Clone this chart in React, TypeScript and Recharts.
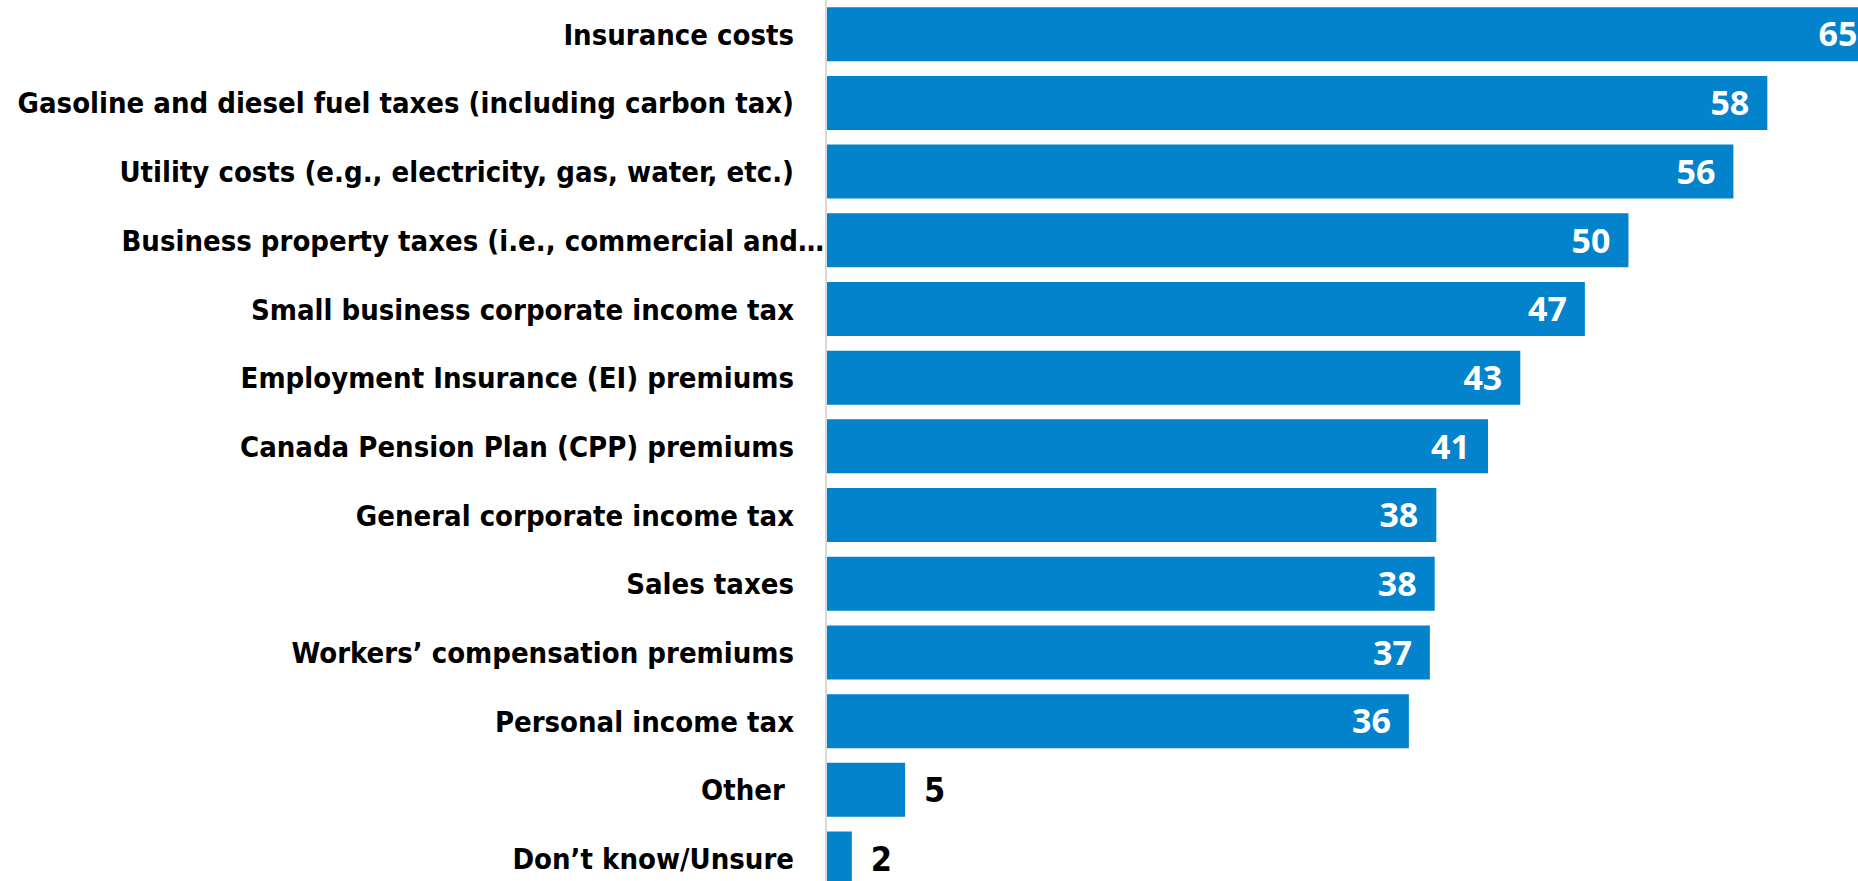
import React from "react";
import { BarChart, Bar, XAxis, YAxis, LabelList } from "recharts";

const categories = [
  "Insurance costs",
  "Gasoline and diesel fuel taxes (including carbon tax)",
  "Utility costs (e.g., electricity, gas, water, etc.)",
  "Business property taxes (i.e., commercial and…",
  "Small business corporate income tax",
  "Employment Insurance (EI) premiums",
  "Canada Pension Plan (CPP) premiums",
  "General corporate income tax",
  "Sales taxes",
  "Workers’ compensation premiums",
  "Personal income tax",
  "Other\u00A0",
  "Don’t know/Unsure",
];

// bar lengths; labels show the rounded value
const values = [65, 58.3, 56.2, 49.7, 47.0, 43.0, 41.0, 37.8, 37.7, 37.4, 36.1, 4.9, 1.6];
const valueLabels = ["65", "58", "56", "50", "47", "43", "41", "38", "38", "37", "36", "5", "2"];

const data = categories.map((name, i) => ({
  name,
  value: values[i],
  label: valueLabels[i],
}));

const BLUE = "#0283cc";
const LABEL_FONT = "'DejaVu Sans Condensed', 'DejaVu Sans', sans-serif";

function CategoryTick(props: any) {
  const { x, y, payload } = props;
  const text: string = payload.value;
  const truncated = text.endsWith("…");
  return (
    <text
      x={truncated ? x - 2 : x - 32}
      y={y}
      dy="0.36em"
      textAnchor="end"
      fill="#000"
      fontFamily={LABEL_FONT}
      fontWeight="bold"
      fontSize={29}
      style={{ whiteSpace: "pre" }}
    >
      {text}
    </text>
  );
}

function ValueLabel(props: any) {
  const { x, y, width, height, index } = props;
  const v = values[index];
  const cy = y + height / 2;
  if (v < 10) {
    return (
      <text
        x={x + width + 19}
        y={cy}
        dy="0.36em"
        textAnchor="start"
        fill="#000"
        fontFamily={LABEL_FONT}
        fontWeight="bold"
        fontSize={34}
      >
        {valueLabels[index]}
      </text>
    );
  }
  return (
    <text
      x={x + width - 18}
      y={cy}
      dy="0.36em"
      textAnchor="end"
      fill="#fff"
      fontFamily="'Open Sans', sans-serif"
      fontWeight="bold"
      fontSize={34}
    >
      {valueLabels[index]}
    </text>
  );
}

export default function App() {
  return (
    <div
      style={{
        position: "absolute",
        left: 0,
        top: 0,
        width: 1858,
        height: 881,
        overflow: "hidden",
        background: "#fff",
      }}
    >
      <BarChart
        width={1953}
        height={893}
        data={data}
        layout="vertical"
        margin={{ top: 0, right: 0, bottom: 0, left: 0 }}
        barCategoryGap="10.5%"
      >
        <XAxis type="number" domain={[0, 69.8]} hide />
        <YAxis
          type="category"
          dataKey="name"
          width={826}
          axisLine={{ stroke: "#d9d9d9", strokeWidth: 2 }}
          tickLine={false}
          tickSize={0}
          tickMargin={0}
          interval={0}
          tick={<CategoryTick />}
        />
        <Bar dataKey="value" fill={BLUE} isAnimationActive={false}>
          <LabelList dataKey="label" content={<ValueLabel />} />
        </Bar>
      </BarChart>
    </div>
  );
}
